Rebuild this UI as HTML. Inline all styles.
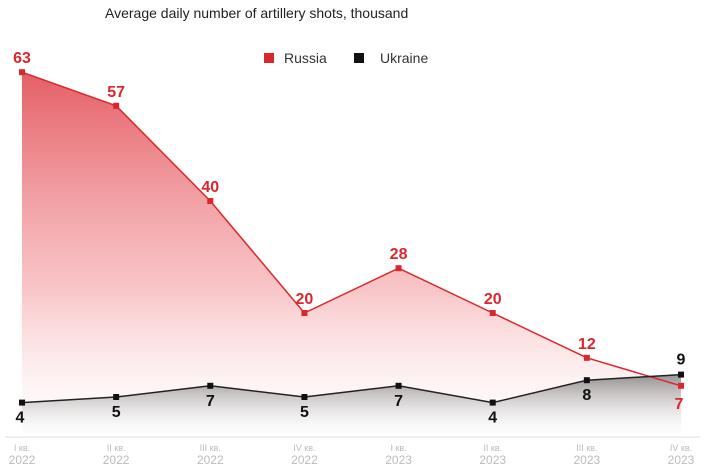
<!DOCTYPE html>
<html><head><meta charset="utf-8"><style>
body{margin:0;background:#fff;font-family:"Liberation Sans",sans-serif}
svg{display:block}
</style></head><body>
<svg id="c" width="705" height="468">
<defs>
<linearGradient id="rg" x1="0" y1="0" x2="0" y2="1"><stop offset="0" stop-color="#e0424a" stop-opacity="0.85"/><stop offset="0.6" stop-color="#f4a0a4" stop-opacity="0.6"/><stop offset="1" stop-color="#fff" stop-opacity="0.2"/></linearGradient>
<linearGradient id="ug" x1="0" y1="0" x2="0" y2="1"><stop offset="0" stop-color="#666" stop-opacity="0.7"/><stop offset="1" stop-color="#fff" stop-opacity="0.1"/></linearGradient>
</defs>
<text x="105" y="18" font-size="14" fill="#222">Average daily number of artillery shots, thousand</text>
<rect x="264" y="53" width="10" height="10" fill="#d9272e"/>
<text x="284" y="63" font-size="14" fill="#333">Russia</text>
<rect x="354" y="53" width="10" height="10" fill="#111"/>
<text x="380" y="63" font-size="14" fill="#333">Ukraine</text>
<line x1="5" y1="437" x2="700" y2="437" stroke="#ddd"/>
<g id="g"></g>
</svg>
<script>
const quarters=["I кв.","II кв.","III кв.","IV кв.","I кв.","II кв.","III кв.","IV кв."];
const years=["2022","2022","2022","2022","2023","2023","2023","2023"];
const russia=[63,57,40,20,28,20,12,7];
const ukraine=[4,5,7,5,7,4,8,9];
const NS="http://www.w3.org/2000/svg";
const g=document.getElementById('g');
const x=i=>22+i*(681-22)/(russia.length-1);
const y=v=>425-v*5.6;
function mk(t,a){const e=document.createElementNS(NS,t);for(const k in a)e.setAttribute(k,a[k]);g.appendChild(e);return e;}
function area(d,fill,name){
 let p="M"+x(0)+",437";d.forEach((v,i)=>p+="L"+x(i)+","+y(v));p+="L"+x(d.length-1)+",437Z";
 const e=mk('path',{d:p,fill:fill});
 
 
}
function line(d,col,name){
 const e=mk('polyline',{points:d.map((v,i)=>x(i)+","+y(v)).join(" "),fill:"none",stroke:col,"stroke-width":1.5});
 
 
}
area(russia,"url(#rg)","russia-area");
area(ukraine,"url(#ug)","ukraine-area");
line(russia,"#d9272e","russia-line");
line(ukraine,"#222","ukraine-line");
russia.forEach((v,i)=>{
 const r=mk('rect',{x:x(i)-3,y:y(v)-3,width:6,height:6,fill:"#d9272e"});
 
 
 const last=i===russia.length-1;
 const t=mk('text',{x:x(i)+(last?-2:0),y:last?y(v)+23:y(v)-9,"text-anchor":"middle","font-size":16,"font-weight":"bold",fill:"#d9272e"});
 t.textContent=v;
 
 
});
ukraine.forEach((v,i)=>{
 const r=mk('rect',{x:x(i)-3,y:y(v)-3,width:6,height:6,fill:"#111"});
 
 
 const last=i===ukraine.length-1;
 const t=mk('text',{x:x(i)+(i===0?-2:0),y:last?y(v)-10:y(v)+20,"text-anchor":"middle","font-size":16,"font-weight":"bold",fill:"#111"});
 t.textContent=v;
 
 
});
quarters.forEach((q,i)=>{
 const t=mk('text',{x:x(i),y:451,"text-anchor":"middle","font-size":9,fill:"#bbb"});
 t.textContent=q;
 
 
 const t2=mk('text',{x:x(i),y:464,"text-anchor":"middle","font-size":12,fill:"#bbb"});
 t2.textContent=years[i];
 
 
});
</script>
</body></html>
